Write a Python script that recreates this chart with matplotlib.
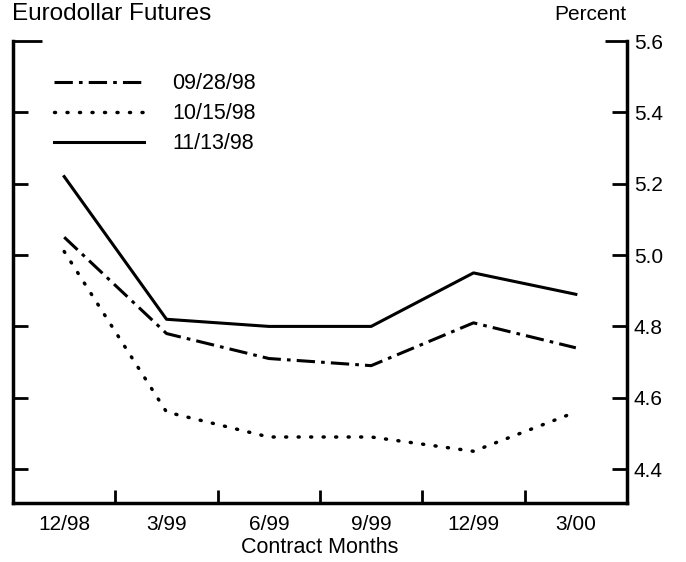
import matplotlib
matplotlib.use("Agg")
import matplotlib.pyplot as plt
from matplotlib.ticker import FixedLocator

plt.rcParams['font.family'] = ['Liberation Sans', 'DejaVu Sans']

# contract months and futures rates (percent)
months = ["12/98", "3/99", "6/99", "9/99", "12/99", "3/00"]
rates_0928 = [5.05, 4.78, 4.71, 4.69, 4.81, 4.74]
rates_1015 = [5.01, 4.56, 4.49, 4.49, 4.45, 4.56]
rates_1113 = [5.22, 4.82, 4.80, 4.80, 4.95, 4.89]
yticks = [4.4, 4.6, 4.8, 5.0, 5.2, 5.4, 5.6]

fig = plt.figure(figsize=(6.86, 5.62), dpi=100)
ax = fig.add_axes([0.019, 0.105, 0.895, 0.822])

x = range(len(months))
ax.plot(x, rates_0928, color="black", lw=2.2, dashes=(6, 2, 1.2, 2),
        label="09/28/98")
ax.plot(x, rates_1015, color="black", lw=2.5, dashes=(0.3, 3.3),
        dash_capstyle="round", label="10/15/98")
ax.plot(x, rates_1113, color="black", lw=2.2, label="11/13/98")

ax.set_xlim(-0.5, len(months) - 0.5)
ax.set_ylim(4.305, 5.6)

ax.spines["top"].set_visible(False)
for s in ["left", "right", "bottom"]:
    ax.spines[s].set_linewidth(2.5)

# x: labels at category centres, tick marks between categories
ax.set_xticks(list(x))
ax.set_xticklabels(months, fontsize=15)
ax.xaxis.set_minor_locator(FixedLocator([i + 0.5 for i in range(len(months) - 1)]))
ax.tick_params(axis="x", which="major", length=0, pad=9)
ax.tick_params(axis="x", which="minor", direction="in", length=9.5, width=2)

# y: ticks on both sides, labels on the right
ax.set_yticks(yticks)
ax.set_yticklabels([f"{v:.1f}" for v in yticks], fontsize=15)
ax.tick_params(axis="y", direction="in", length=11, width=2, left=True,
               right=True, labelleft=False, labelright=True, pad=5)
top_tick = ax.yaxis.get_major_ticks()[-1]
top_tick.tick1line.set_markersize(21)
top_tick.tick2line.set_markersize(16)

ax.set_xlabel("Contract Months", fontsize=15.5, labelpad=2)

fig.text(0.0175, 0.994, "Eurodollar Futures", fontsize=17.5, ha="left", va="top")
fig.text(0.913, 0.958, "Percent", fontsize=15, ha="right", va="bottom")

leg = ax.legend(loc="upper left", bbox_to_anchor=(0.035, 0.972), frameon=False,
                fontsize=15.5, handlelength=4.2, handletextpad=1.3,
                labelspacing=0.42)

fig.savefig("out.png", dpi=100)
